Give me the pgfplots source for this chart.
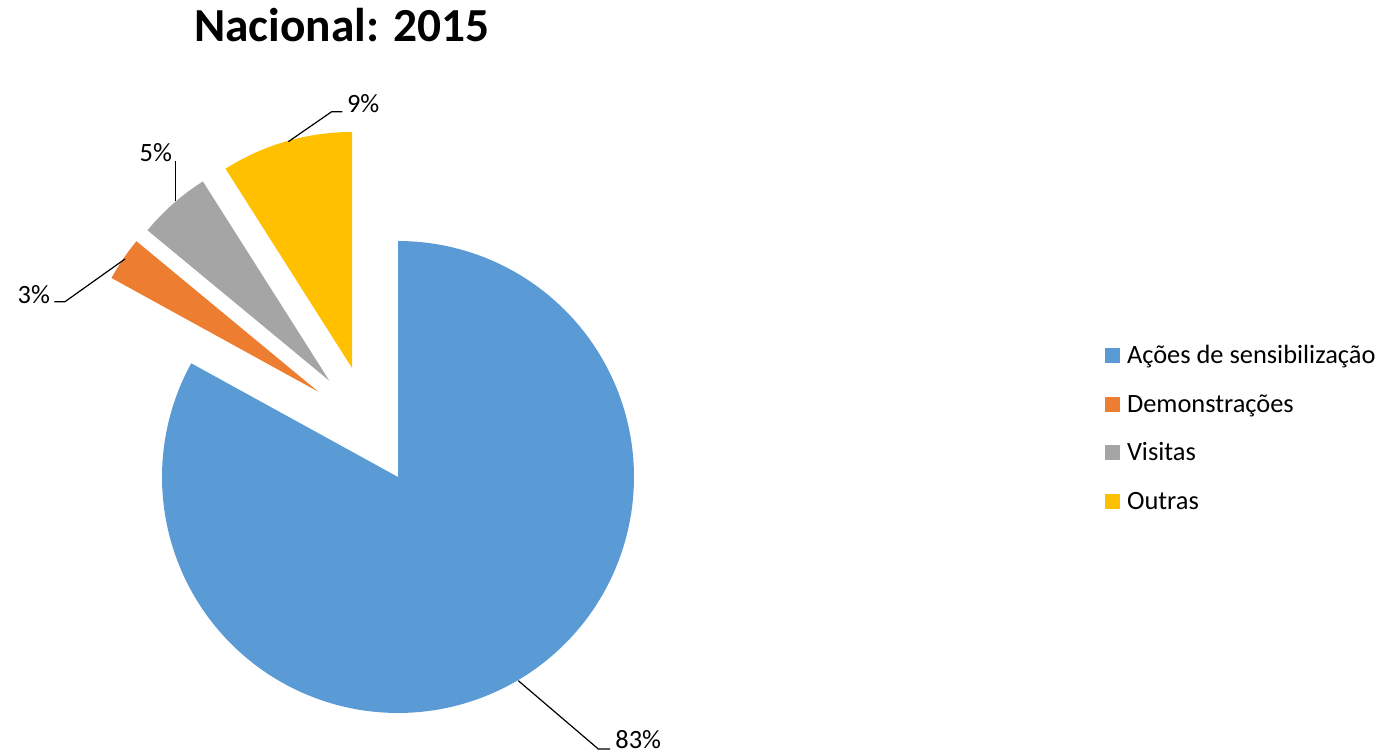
\documentclass[border=0pt]{standalone}
\usepackage{pgfplots}
\pgfplotsset{compat=1.18}
\usepackage{pgfplotstable}
\usepackage{fontspec}
\setmainfont{Carlito}
\definecolor{cA}{HTML}{5B9BD5}
\definecolor{cB}{HTML}{ED7D31}
\definecolor{cC}{HTML}{A5A5A5}
\definecolor{cD}{HTML}{FFC000}

% value (percent), tip of each (exploded) slice in picture units
\pgfplotstableread{
value tipx tipy
83 398   277
3  318.3 362.3
5  329.3 373.3
9  352   386
}\piedata

\pgfplotstablegetelem{0}{value}\of\piedata\edef\vA{\pgfplotsretval}
\pgfplotstablegetelem{1}{value}\of\piedata\edef\vB{\pgfplotsretval}
\pgfplotstablegetelem{2}{value}\of\piedata\edef\vC{\pgfplotsretval}
\pgfplotstablegetelem{3}{value}\of\piedata\edef\vD{\pgfplotsretval}
\pgfplotstablegetelem{0}{tipx}\of\piedata\edef\xA{\pgfplotsretval}
\pgfplotstablegetelem{1}{tipx}\of\piedata\edef\xB{\pgfplotsretval}
\pgfplotstablegetelem{2}{tipx}\of\piedata\edef\xC{\pgfplotsretval}
\pgfplotstablegetelem{3}{tipx}\of\piedata\edef\xD{\pgfplotsretval}
\pgfplotstablegetelem{0}{tipy}\of\piedata\edef\yA{\pgfplotsretval}
\pgfplotstablegetelem{1}{tipy}\of\piedata\edef\yB{\pgfplotsretval}
\pgfplotstablegetelem{2}{tipy}\of\piedata\edef\yC{\pgfplotsretval}
\pgfplotstablegetelem{3}{tipy}\of\piedata\edef\yD{\pgfplotsretval}

\pgfmathsetmacro\aA{90-3.6*\vA}
\pgfmathsetmacro\aB{\aA-3.6*\vB}
\pgfmathsetmacro\aC{\aB-3.6*\vC}
\pgfmathsetmacro\aD{\aC-3.6*\vD}
\def\R{236}

\begin{document}
\begin{tikzpicture}
\begin{axis}[
  x=0.5pt, y=0.5pt,
  xmin=0, xmax=1382, ymin=0, ymax=754,
  enlargelimits=false,
  hide axis, clip=false,
  legend cell align=left,
  legend image code/.code={\fill[#1] (0pt,0.25pt) rectangle (7.5pt,7.75pt);},
  legend style={at={(0.79957,0.54111)}, anchor=north west, draw=none, fill=none,
    inner sep=0pt, outer sep=0pt,
    font=\fontsize{13.2}{15.84}\selectfont,
    row sep=12.2pt, column sep=3.5pt,
    nodes={inner sep=0pt, text height=9pt, text depth=3pt, anchor=base west}},
]
\addplot[fill=cA, draw=none, domain=\aA:90, samples=200]
  ({\xA+\R*cos(x)},{\yA+\R*sin(x)}) -- (\xA,\yA) -- cycle;
\addlegendentry{Ações de sensibilização}
\addplot[fill=cB, draw=none, domain=\aB:\aA, samples=30]
  ({\xB+\R*cos(x)},{\yB+\R*sin(x)}) -- (\xB,\yB) -- cycle;
\addlegendentry{Demonstrações}
\addplot[fill=cC, draw=none, domain=\aC:\aB, samples=40]
  ({\xC+\R*cos(x)},{\yC+\R*sin(x)}) -- (\xC,\yC) -- cycle;
\addlegendentry{Visitas}
\addplot[fill=cD, draw=none, domain=\aD:\aC, samples=60]
  ({\xD+\R*cos(x)},{\yD+\R*sin(x)}) -- (\xD,\yD) -- cycle;
\addlegendentry{Outras}

% leader lines
\draw[line width=0.6pt] (288.3,612.3) -- (331.7,642.3) -- (342.3,642.3);
\draw[line width=0.6pt] (175.7,553) -- (175.7,593);
\draw[line width=0.6pt] (125,495) -- (65,452.3) -- (54.3,452.3);
\draw[line width=0.6pt] (518.3,73.3) -- (598.3,5) -- (610,5);

% data labels
\begin{scope}[every node/.style={inner sep=0pt, anchor=base west, font=\fontsize{13.2}{15.84}\selectfont}]
\node at (346.7,641.5) {9\%};
\node at (139.3,592.5) {5\%};
\node at (17.3,450) {3\%};
\node at (615,5) {83\%};
\end{scope}

% title
\node[inner sep=0pt, anchor=base, font=\bfseries\fontsize{23.7}{28}\selectfont] at (342,712) {Nacional: 2015};
\end{axis}
\pgfresetboundingbox
\path (0,0) rectangle (691pt,377pt);
\end{tikzpicture}
\end{document}
